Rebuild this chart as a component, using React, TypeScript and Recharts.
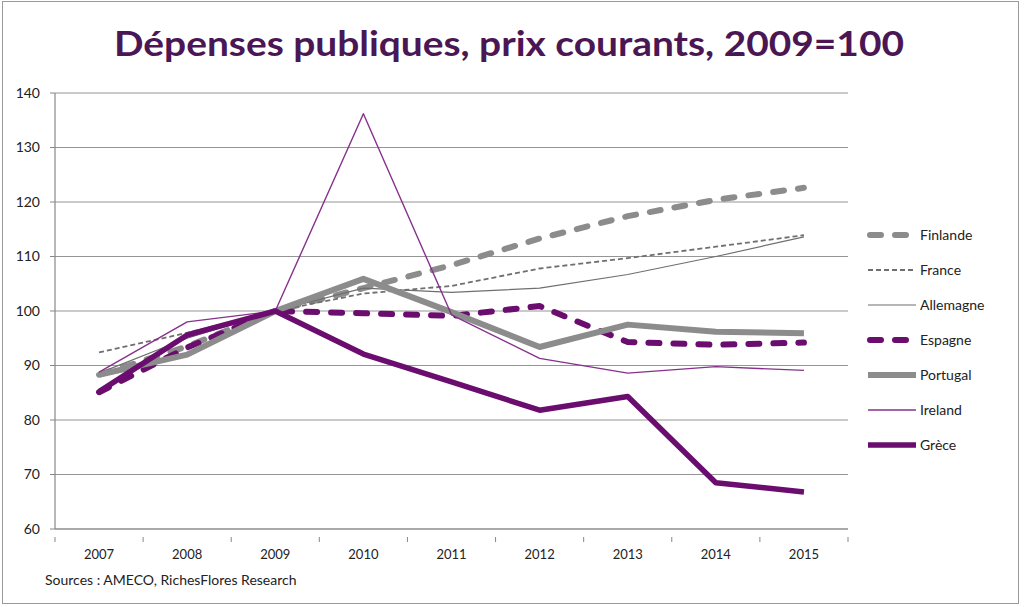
import { LineChart, Line, XAxis, YAxis, CartesianGrid } from 'recharts';

// années et séries (indice 2009 = 100)
const years = ['2007', '2008', '2009', '2010', '2011', '2012', '2013', '2014', '2015'];
const finlande = [88.3, 93.5, 100, 104.2, 108.4, 113.3, 117.4, 120.4, 122.6];
const france = [92.4, 96, 100, 103.2, 104.6, 107.8, 109.7, 111.8, 113.9];
const allemagne = [88.6, 95, 100, 104.2, 103.4, 104.2, 106.7, 110, 113.6];
const espagne = [85.1, 93.3, 100, 99.6, 99.1, 100.9, 94.3, 93.8, 94.2];
const portugal = [88.3, 92, 100, 105.9, 99.8, 93.4, 97.5, 96.2, 95.9];
const ireland = [88.8, 98, 100, 136.2, 99.3, 91.3, 88.6, 89.8, 89.1];
const grece = [85.2, 95.6, 100, 92.1, 87, 81.8, 84.3, 68.5, 66.8];
const yTicks = [60, 70, 80, 90, 100, 110, 120, 130, 140];

const PURPLE = '#6a0d6e';
const GREY = '#8c8c8c';

const series = [
  { key: 'Finlande', values: finlande, color: GREY, width: 6, dash: '11 14', cap: 'round' },
  { key: 'France', values: france, color: '#6f6f6f', width: 1.8, dash: '5 3', cap: 'butt' },
  { key: 'Allemagne', values: allemagne, color: '#6f6f6f', width: 1.2, dash: undefined, cap: 'butt' },
  { key: 'Espagne', values: espagne, color: PURPLE, width: 6, dash: '11 14', cap: 'round' },
  { key: 'Portugal', values: portugal, color: GREY, width: 6, dash: undefined, cap: 'butt' },
  { key: 'Ireland', values: ireland, color: '#86318b', width: 1.4, dash: undefined, cap: 'butt' },
  { key: 'Grèce', values: grece, color: PURPLE, width: 5.5, dash: undefined, cap: 'butt' },
];

const data = years.map((year, i) => {
  const row: Record<string, string | number> = { year };
  series.forEach((s) => {
    row[s.key] = s.values[i];
  });
  return row;
});

const FONT = 'Lato, "Open Sans", sans-serif';

// tick de l'axe X : libellé centré, petit trait aux limites de catégorie (style Excel)
const XTick = (props: any) => {
  const { x, y, payload, index, visibleTicksCount, width } = props;
  const half = payload && payload.offset ? payload.offset : width / visibleTicksCount / 2;
  const last = index === visibleTicksCount - 1;
  return (
    <g>
      <line x1={x - half} x2={x - half} y1={y} y2={y + 5} stroke="#888" />
      {last && <line x1={x + half} x2={x + half} y1={y} y2={y + 5} stroke="#888" />}
      <text x={x} y={y + 22} textAnchor="middle" fontSize={13} fill="#222" fontFamily={FONT}>
        {payload.value}
      </text>
    </g>
  );
};

export default function App() {
  return (
    <div
      style={{
        position: 'absolute',
        left: 0,
        top: 0,
        width: 1024,
        height: 607,
        background: '#fff',
        fontFamily: FONT,
      }}
    >
      <div
        style={{
          position: 'absolute',
          left: 2,
          top: 1,
          width: 1017,
          height: 603,
          border: '1px solid #9a9a9a',
          boxSizing: 'border-box',
        }}
      />
      <svg style={{ position: 'absolute', left: 0, top: 0 }} width={1024} height={80}>
        <text
          x={509}
          y={56}
          textAnchor="middle"
          textLength={790}
          lengthAdjust="spacingAndGlyphs"
          fontSize={34}
          fontWeight={700}
          fill="#4b1654"
          fontFamily={FONT}
        >
          Dépenses publiques, prix courants, 2009=100
        </text>
      </svg>

      <div style={{ position: 'absolute', left: 0, top: 0 }}>
        <LineChart width={1024} height={607} data={data} margin={{ top: 93, right: 176, bottom: 48, left: 0 }}>
          <CartesianGrid vertical={false} stroke="#959595" strokeWidth={1.2} />
          <XAxis
            dataKey="year"
            scale="band"
            height={30}
            axisLine={{ stroke: '#888', strokeWidth: 1.2 }}
            tickLine={false}
            tick={<XTick />}
            interval={0}
          />
          <YAxis
            domain={[60, 140]}
            ticks={yTicks}
            width={55}
            axisLine={{ stroke: '#888', strokeWidth: 1.2 }}
            tickLine={{ stroke: '#888' }}
            tickSize={5}
            tickMargin={10}
            tick={{ fontSize: 14, fill: '#222', fontFamily: FONT }}
            interval={0}
          />
          {series.map((s) => (
            <Line
              key={s.key}
              type="linear"
              dataKey={s.key}
              stroke={s.color}
              strokeWidth={s.width}
              strokeDasharray={s.dash}
              strokeLinecap={s.cap as any}
              strokeLinejoin="round"
              dot={false}
              activeDot={false}
              isAnimationActive={false}
            />
          ))}
        </LineChart>
      </div>

      {/* légende */}
      <div style={{ position: 'absolute', left: 866, top: 217 }}>
        {series.map((s) => (
          <div key={s.key} style={{ display: 'flex', alignItems: 'center', height: 35 }}>
            <svg width={52} height={12}>
              <line
                x1={s.cap === 'round' ? 4 : 2}
                x2={s.cap === 'round' ? 48 : 50}
                y1={6}
                y2={6}
                stroke={s.color}
                strokeWidth={s.width}
                strokeDasharray={s.dash}
                strokeLinecap={s.cap as any}
              />
            </svg>
            <span style={{ fontSize: 14, color: '#222', marginLeft: 2 }}>{s.key}</span>
          </div>
        ))}
      </div>

      <div style={{ position: 'absolute', left: 45, top: 571, fontSize: 14, color: '#222' }}>
        Sources : AMECO, RichesFlores Research
      </div>
    </div>
  );
}
